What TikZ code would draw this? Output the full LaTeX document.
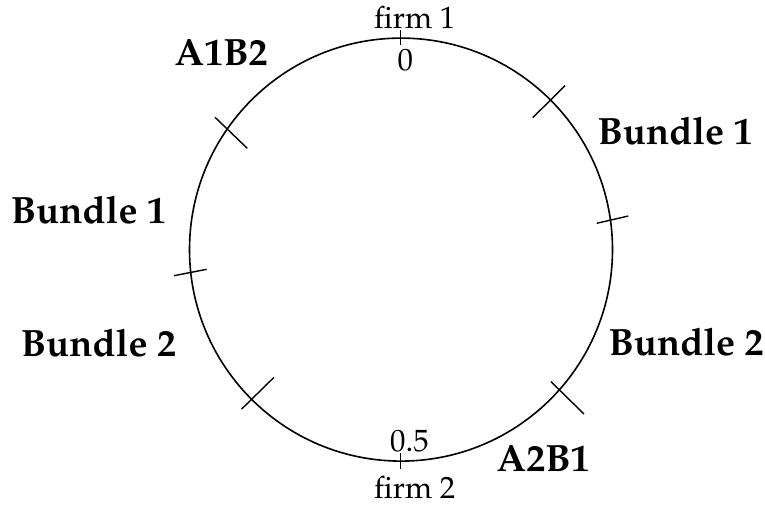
\documentclass[tikz,border=0pt]{standalone}
\usepackage[T1]{fontenc}
\usepackage{mathpazo}
\begin{document}
\begin{tikzpicture}[x=1pt,y=-1pt,
  tick/.style={line width=1.4pt},
  lab/.style={inner sep=0pt,anchor=base west,font=\fontsize{30.8}{36}\selectfont},
  blab/.style={inner sep=0pt,anchor=base west,font=\fontsize{38}{44}\selectfont\bfseries}]
\useasboundingbox (0,0) rectangle (765,506);
\coordinate (c) at (401,249.6);
\draw[line width=1.6pt] (c) circle[radius=211.5pt];
% ticks
\draw[tick] (400.7,30) -- (400.7,45);
\draw[tick] (400.7,453.3) -- (400.7,469.3);
\draw[tick] (532.7,117.7) -- (565,85.7);
\draw[tick] (596.7,223.3) -- (628.3,216);
\draw[tick] (551,381.7) -- (584,414);
\draw[tick] (241.7,409) -- (274,377.3);
\draw[tick] (174,275.7) -- (206.7,269.3);
\draw[tick] (215,117.3) -- (247.3,148.3);
% labels
\node[lab] (f1) at (374,28.3) {firm 1};
\node[lab] (z0) at (397.5,70) {0};
\node[lab] (z5) at (390,451.7) {0.5};
\node[lab] (f2) at (374,498.3) {firm 2};
\node[blab] (a1b2) at (174.5,65) {A1B2};
\node[blab] (bl1) at (10.7,223.3) {Bundle 1};
\node[blab] (bl2) at (20.7,356) {Bundle 2};
\node[blab] (br1) at (597.3,144) {Bundle 1};
\node[blab] (br2) at (608.3,355) {Bundle 2};
\node[blab] (a2b1) at (496.5,471.7) {A2B1};
\end{tikzpicture}
\end{document}
